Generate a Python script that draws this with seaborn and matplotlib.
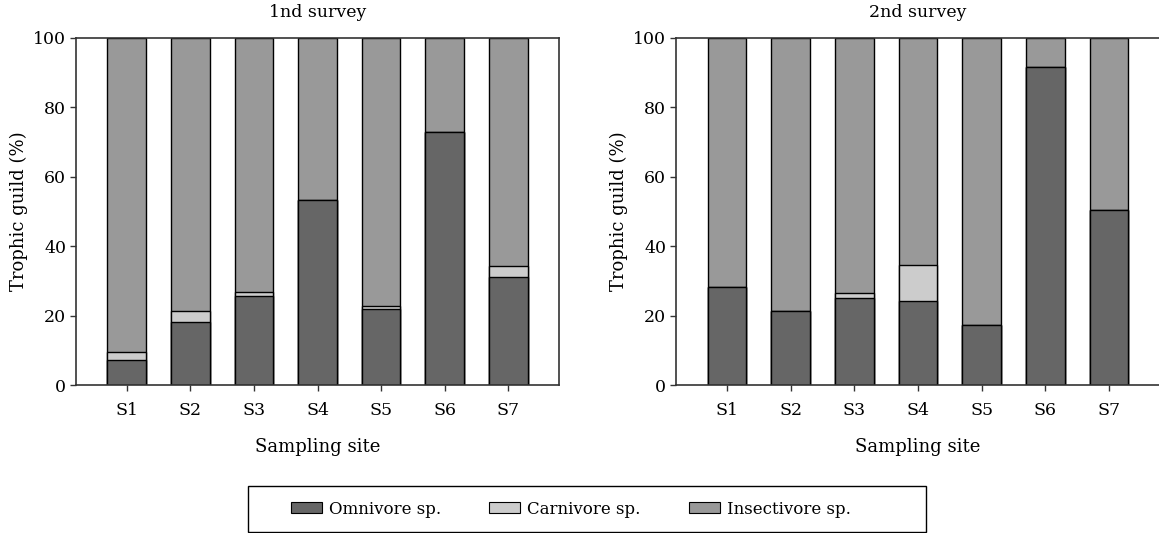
import matplotlib
matplotlib.use("Agg")
import matplotlib.pyplot as plt
import matplotlib.patches as mpatches
import seaborn as sns
import numpy as np
import pandas as pd

sites = ["S1", "S2", "S3", "S4", "S5", "S6", "S7"]
titles = ["1nd survey", "2nd survey"]
guilds = ["Omnivore sp.", "Carnivore sp.", "Insectivore sp."]

omni1 = [7.3, 18.1, 25.7, 53.3, 22.0, 72.8, 31.2]
carn1 = [2.2, 3.1, 1.1, 0.0, 0.9, 0.0, 3.0]
insect1 = [90.5, 78.8, 73.2, 46.7, 77.1, 27.2, 65.8]

omni2 = [28.2, 21.2, 25.2, 24.2, 17.2, 91.7, 50.3]
carn2 = [0.0, 0.0, 1.3, 10.4, 0.0, 0.0, 0.0]
insect2 = [71.8, 78.8, 73.5, 65.4, 82.8, 8.3, 49.7]

colors = ["#666666", "#cccccc", "#999999"]

sns.set_theme(style="white")
plt.rcParams['font.family'] = ['DejaVu Serif']
plt.rcParams['font.size'] = 12
plt.rcParams['text.color'] = 'black'
plt.rcParams['axes.labelcolor'] = 'black'
plt.rcParams['xtick.color'] = 'black'
plt.rcParams['ytick.color'] = 'black'

W, H = 1159, 533
fig = plt.figure(figsize=(W / 100, H / 100), dpi=100)

ax1 = fig.add_axes([76 / W, 1 - 385 / H, (559 - 76) / W, (385 - 38) / H])
ax2 = fig.add_axes([676 / W, 1 - 385 / H, (1160 - 676) / W, (385 - 38) / H])

surveys = [(omni1, carn1, insect1), (omni2, carn2, insect2)]

for ax, (om, ca, ins), title in zip([ax1, ax2], surveys, titles):
    om = np.array(om); ca = np.array(ca); ins = np.array(ins)
    layers = [om, om + ca, om + ca + ins]
    # draw from top (cumulative total) down so lower segments overlay
    for vals, col in zip(layers[::-1], colors[::-1]):
        df = pd.DataFrame({"site": sites, "value": vals})
        sns.barplot(data=df, x="site", y="value", ax=ax, color=col,
                    width=0.61, edgecolor="black", linewidth=1.0,
                    saturation=1, errorbar=None)
    ax.set_xlim(-0.8, 6.8)
    ax.set_ylim(0, 100)
    ax.set_yticks([0, 20, 40, 60, 80, 100])
    ax.set_ylabel("Trophic guild (%)", fontsize=13, labelpad=4)
    ax.set_xlabel("Sampling site", fontsize=13, labelpad=14)
    ax.set_title(title, fontsize=12.5, pad=15)
    ax.tick_params(axis="both", which="both", direction="out", length=4,
                   width=1, color="#333333", labelsize=12.5, bottom=True, left=True,
                   pad=3)
    ax.tick_params(axis="x", pad=8)
    for s in ax.spines.values():
        s.set_color("#333333")
        s.set_linewidth(1.2)

ax2.spines["right"].set_visible(False)

# legend frame drawn as a figure rectangle
frame = mpatches.Rectangle((248 / W, 1 - 532 / H), (926 - 248) / W, (532 - 486) / H,
                           transform=fig.transFigure, fill=False,
                           edgecolor="black", linewidth=1.0)
fig.patches.append(frame)

handles = [mpatches.Patch(facecolor=c, edgecolor="black", linewidth=0.8, label=g)
           for c, g in zip(colors, guilds)]
leg = fig.legend(handles=handles, loc="center left", ncol=3,
                 bbox_to_anchor=(291 / W, 1 - 509 / H), frameon=False,
                 fontsize=12, handlelength=1.85, handleheight=0.6,
                 handletextpad=0.42, columnspacing=2.9, borderpad=0,
                 borderaxespad=0)

fig.savefig("out.png", dpi=100)
